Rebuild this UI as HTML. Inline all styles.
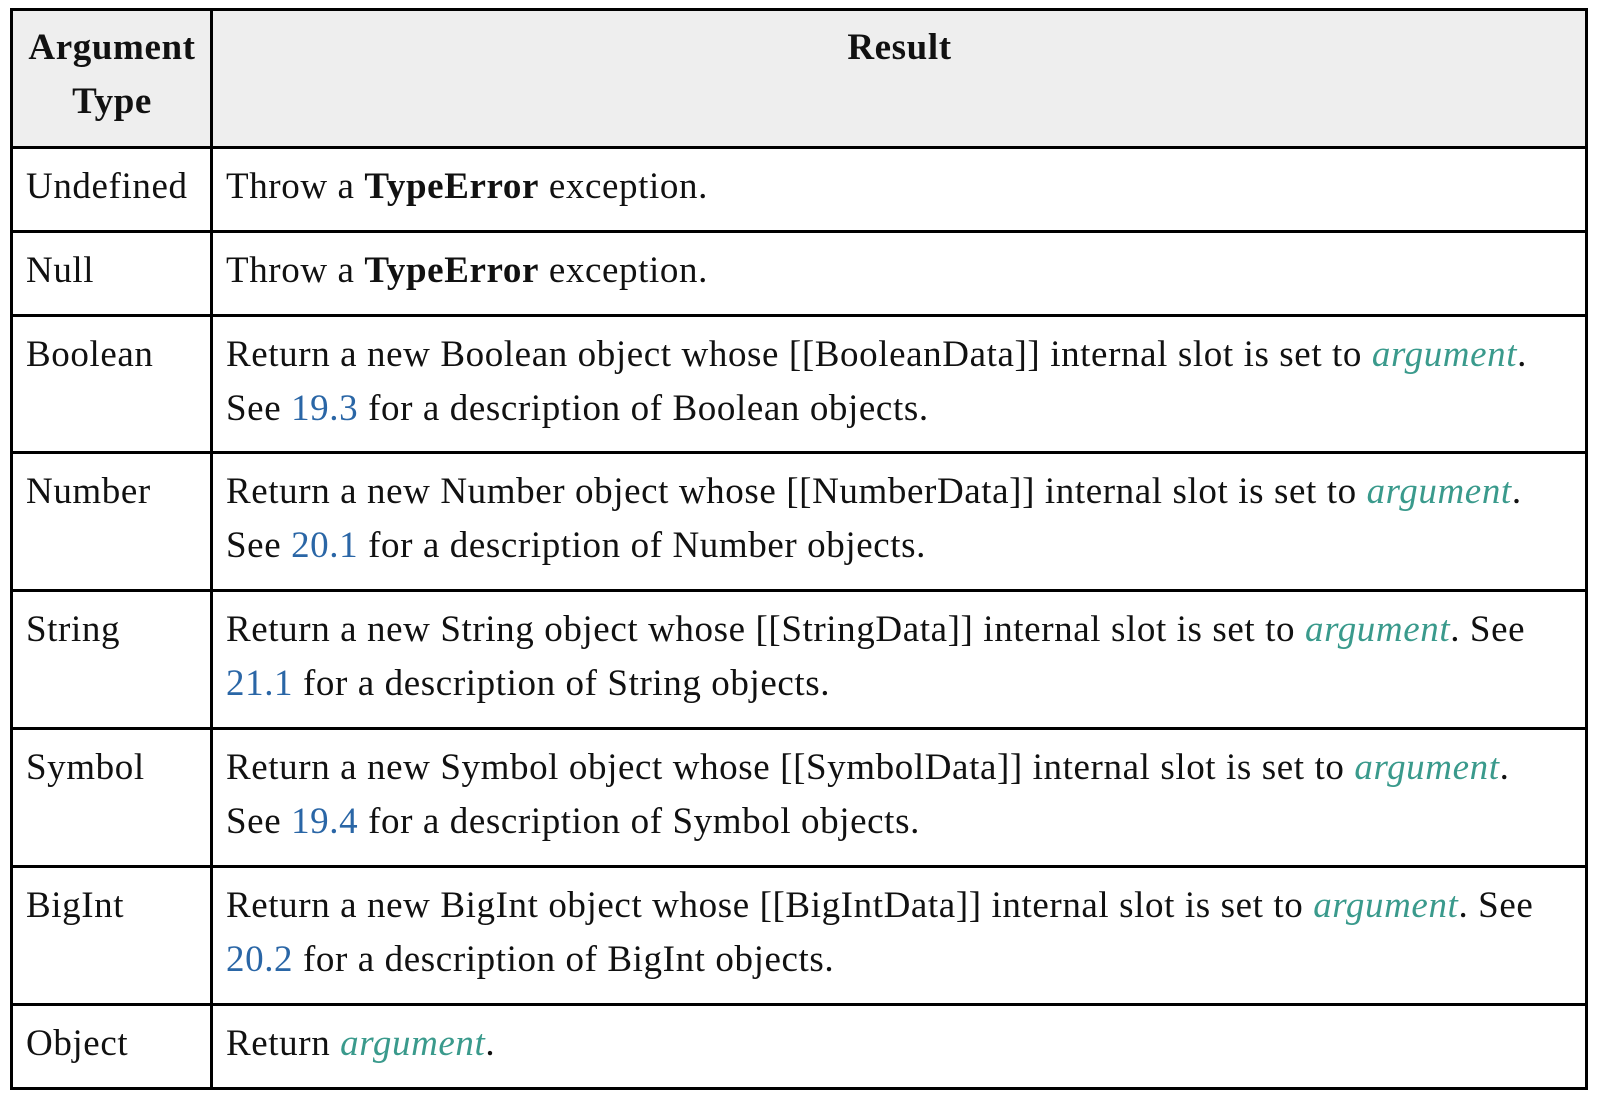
<!DOCTYPE html>
<html><head><style>
html,body{margin:0;padding:0;background:#fff;width:1598px;height:1098px;overflow:hidden}
table{position:absolute;left:10px;top:8px;border-collapse:collapse;width:1578px;font-family:"Liberation Serif",serif;font-size:37px;letter-spacing:0.6px;color:#111}
td,th{border:3px solid #000;vertical-align:top;padding:11px 12px 0 13px;line-height:54px;text-align:left}
th{background:#eee;font-weight:bold;text-align:center;padding-top:10px}
td.a{width:172px}
i{color:#3a9a8c}
a{color:#2a66a6;text-decoration:none}
</style></head><body>
<table>
<tr style="height:138px"><th style="width:172px">Argument<br>Type</th><th>Result</th></tr>
<tr style="height:84px"><td class="a">Undefined</td><td>Throw a <b>TypeError</b> exception.</td></tr>
<tr style="height:84px"><td class="a">Null</td><td>Throw a <b>TypeError</b> exception.</td></tr>
<tr style="height:137px"><td class="a">Boolean</td><td>Return a new Boolean object whose [[BooleanData]] internal slot is set to <i>argument</i>.<br>See <a>19.3</a> for a description of Boolean objects.</td></tr>
<tr style="height:138px"><td class="a">Number</td><td>Return a new Number object whose [[NumberData]] internal slot is set to <i>argument</i>.<br>See <a>20.1</a> for a description of Number objects.</td></tr>
<tr style="height:138px"><td class="a">String</td><td>Return a new String object whose [[StringData]] internal slot is set to <i>argument</i>. See<br><a>21.1</a> for a description of String objects.</td></tr>
<tr style="height:138px"><td class="a">Symbol</td><td>Return a new Symbol object whose [[SymbolData]] internal slot is set to <i>argument</i>.<br>See <a>19.4</a> for a description of Symbol objects.</td></tr>
<tr style="height:138px"><td class="a">BigInt</td><td>Return a new BigInt object whose [[BigIntData]] internal slot is set to <i>argument</i>. See<br><a>20.2</a> for a description of BigInt objects.</td></tr>
<tr style="height:84px"><td class="a">Object</td><td>Return <i>argument</i>.</td></tr>
</table>
</body></html>
